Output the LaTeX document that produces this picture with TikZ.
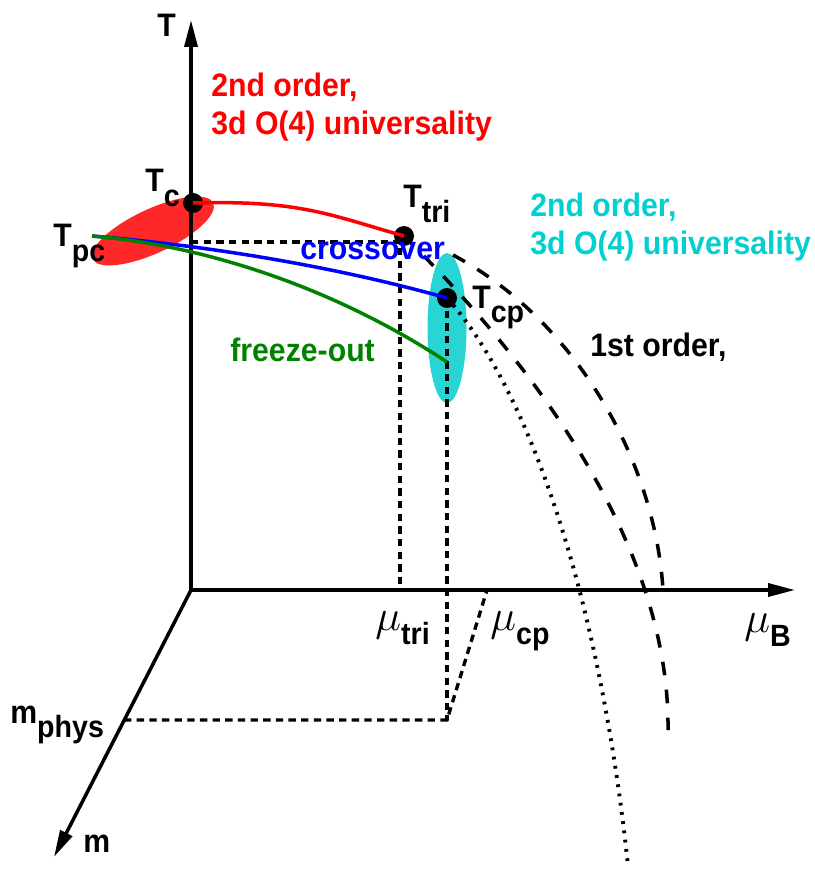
\documentclass[tikz,border=0pt]{standalone}
\usepackage{fontspec}
\setmainfont{Liberation Sans}[FakeStretch=0.93]
\usetikzlibrary{arrows.meta}

\definecolor{redfill}{RGB}{255,40,40}
\definecolor{cyanfill}{RGB}{40,212,212}
\definecolor{cyantext}{RGB}{0,208,208}
\definecolor{freezegreen}{RGB}{0,130,0}

\newcommand{\lowsub}[1]{\raisebox{-8.5pt}{\fontsize{17.5}{17.5}\selectfont #1}}

\begin{document}
\begin{tikzpicture}[
    x=0.02cm, y=-0.02cm,
    >={Triangle[length=0.54cm,width=0.26cm]},
    axisline/.style={->,line width=2pt},
    lbl/.style={font=\fontsize{18.5}{21.6}\selectfont\bfseries, inner sep=0pt},
    mulbl/.style={font=\fontsize{24}{24}\selectfont, inner sep=0pt},
    phasedot/.style={circle, fill=black, minimum size=0.4cm, inner sep=0pt},
    phaseline/.style={line width=2pt},
    shortdash/.style={line width=1.9pt, dash pattern=on 4.2pt off 3pt},
    longdash/.style={line width=2pt, dash pattern=on 7.8pt off 8.2pt},
    dotline/.style={line width=2.2pt, dash pattern=on 1.6pt off 3.7pt},
]
\useasboundingbox (0,0) rectangle (814,871);

% Critical regions
\fill[redfill, rotate around={25:(153,231)}] (153,231) ellipse (1.33cm and 0.44cm);
\fill[cyanfill] (447,328) ellipse (0.39cm and 1.5cm);

% Axes
\coordinate (O) at (191,590);
\coordinate (Ttip) at (191,20);
\coordinate (Btip) at (795,590);
\coordinate (mtip) at (54,857);
\draw[axisline] (O) -- (Ttip);
\draw[axisline] (O) -- (Btip);
\draw[axisline] (O) -- (mtip);

% Special points
\node[phasedot] (Tc) at (193,203) {};
\node[phasedot] (Ttri) at (404,236) {};
\node[phasedot] (Tcp) at (447,298) {};
\coordinate (pc) at (92,236);

% Projections
\coordinate (Tline) at (191,242);
\coordinate (tricorner) at (400,242);
\coordinate (triaxis) at (400,590);
\coordinate (mphys) at (124,720);
\coordinate (cpphys) at (447,720);
\coordinate (cpaxis) at (487,590);
\draw[shortdash] (Tline) -- (tricorner) -- (triaxis);
\draw[shortdash] (Tcp.center) -- (cpphys);
\draw[shortdash] (mphys) -- (cpphys) -- (cpaxis);

% First order surface
\coordinate (outertop) at (453,255);
\coordinate (outeraxis) at (663,590);
\coordinate (innerend) at (668,730);
\coordinate (dotend) at (628,866);
\draw[longdash] (outertop) .. controls (575,320) and (655,460) .. (outeraxis);
\draw[longdash] (Ttri.center) .. controls (540,370) and (670,550) .. (innerend);
\draw[dotline] (Tcp.center) .. controls (530,390) and (600,600) .. (dotend);

% Transition lines
\coordinate (greenend) at (447,362);
\draw[phaseline, red] (Tc.center) .. controls (300,200) and (330,215) .. (Ttri.center);
\draw[phaseline, blue] (pc) .. controls (200,245) and (330,265) .. (Tcp.center);
\draw[phaseline, freezegreen] (pc) .. controls (200,245) and (330,285) .. (greenend);

% Labels
\node[lbl, anchor=base west] (Tlabel) at (157,37) {T};
\node[lbl, anchor=base west] (mlabel) at (83,852) {m};
\node[mulbl, anchor=base west] (mulabel) at (744,632) {$\mu$\lowsub{\bfseries B}};
\node[mulbl, anchor=base west] (mutrilabel) at (375,630) {$\mu$\lowsub{\bfseries tri}};
\node[mulbl, anchor=base west] (mucplabel) at (490,630) {$\mu$\lowsub{\bfseries cp}};
\node[lbl, anchor=base west] (mphyslabel) at (10,723) {m\lowsub{phys}};
\node[lbl, anchor=base west] (Tclabel) at (145,192) {T\lowsub{c}};
\node[lbl, anchor=base west] (Tpclabel) at (53,247) {T\lowsub{pc}};
\node[lbl, anchor=base west] (Ttrilabel) at (403,208) {T\lowsub{tri}};
\node[lbl, anchor=base west] (Tcplabel) at (472,308) {T\lowsub{cp}};

\node[lbl, red, anchor=north west, align=left] (redtext) at (211,73)
    {2nd order,\\3d O(4) universality};
\node[lbl, cyantext, anchor=north west, align=left] (cyantext) at (530,193)
    {2nd order,\\3d O(4) universality};
\node[lbl, anchor=base west] (firsttext) at (590,356) {1st order,};
\node[lbl, blue, anchor=base west] (crosstext) at (300,259) {crossover};
\node[lbl, freezegreen, anchor=base west] (freezetext) at (230,361) {freeze-out};
\end{tikzpicture}
\end{document}
